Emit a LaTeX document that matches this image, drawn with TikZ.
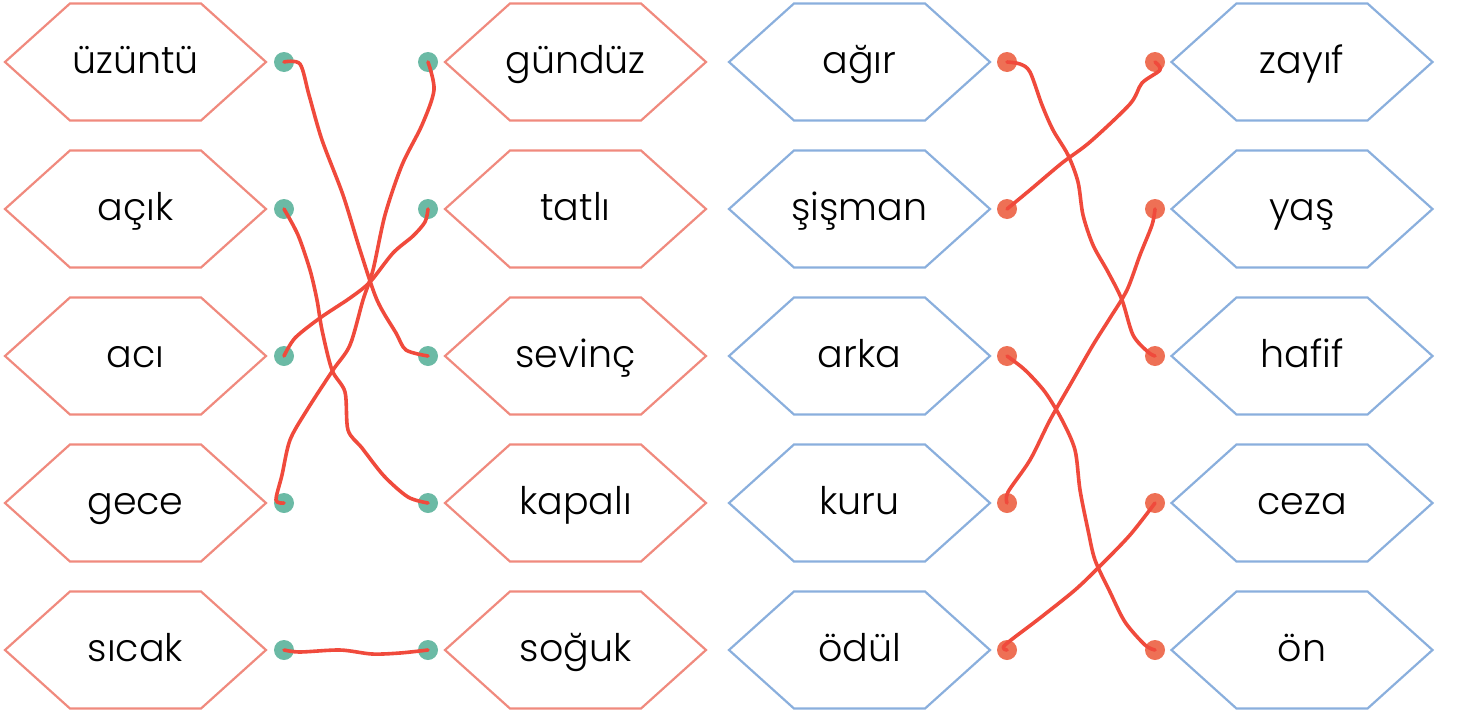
\documentclass[tikz,border=0pt]{standalone}
\usepackage{fontspec}
\setmainfont{Poppins}[UprightFont=* Light]
\usetikzlibrary{shapes.symbols}

\definecolor{hexred}{HTML}{F08A7E}
\definecolor{hexblue}{HTML}{8AAFDD}
\definecolor{dotgreen}{HTML}{6BBAA5}
\definecolor{dotred}{HTML}{EE7055}
\definecolor{penred}{HTML}{F04A3C}

\tikzset{
	wordbox/.style={signal, signal to=west and east, signal pointer angle=84, minimum width=261pt, minimum height=117pt, line width=2.2pt, inner sep=0pt, text height=30pt, text depth=8pt, font=\fontsize{38}{40}\selectfont},
	dotmark/.style={circle, inner sep=0pt, minimum size=20pt},
	penline/.style={draw=penred, line width=3.6pt, line cap=round, line join=round}
}

\begin{document}
\begin{tikzpicture}[x=1pt,y=-1pt]
	\useasboundingbox (0,0) rectangle (1459,715);

	\def\rowgap{147}		% vertical distance between the rows
	\def\top{62}			% height of the first row
	\def\tension{0.5}		% how much the pen lines are smoothed

	\foreach \w [count=\i] in {üzüntü,açık,acı,gece,sıcak}{% first column
		\node[wordbox, draw=hexred] (a\i) at (135.5,{\top+\rowgap*(\i-1)}) {\makebox[0pt]{\w}};
		\node[dotmark, fill=dotgreen] (p\i) at (284,{\top+\rowgap*(\i-1)}) {};
	}
	\foreach \w [count=\i] in {gündüz,tatlı,sevinç,kapalı,soğuk}{% second column
		\node[wordbox, draw=hexred] (b\i) at (575.5,{\top+\rowgap*(\i-1)}) {\makebox[0pt]{\w}};
		\node[dotmark, fill=dotgreen] (q\i) at (428,{\top+\rowgap*(\i-1)}) {};
	}
	\foreach \w [count=\i] in {ağır,şişman,arka,kuru,ödül}{% third column
		\node[wordbox, draw=hexblue] (c\i) at (859.5,{\top+\rowgap*(\i-1)}) {\makebox[0pt]{\w}};
		\node[dotmark, fill=dotred] (r\i) at (1007,{\top+\rowgap*(\i-1)}) {};
	}
	\foreach \w [count=\i] in {zayıf,yaş,hafif,ceza,ön}{% fourth column
		\node[wordbox, draw=hexblue] (d\i) at (1302,{\top+\rowgap*(\i-1)}) {\makebox[0pt]{\w}};
		\node[dotmark, fill=dotred] (s\i) at (1155,{\top+\rowgap*(\i-1)}) {};
	}

	% the matching lines, drawn by hand
	\draw[penline] plot[smooth, tension=\tension] coordinates {(p1.center) (300,64) (309,95) (322,140) (343,195) (360,250) (377,300) (396,333) (406,350) (q3.center)};
	\draw[penline] plot[smooth, tension=\tension] coordinates {(q1.center) (434,90) (422,125) (402,165) (385,215) (373,270) (363,300) (350,345) (333,370) (307,410) (290,440) (282,475) (276,500) (p4.center)};
	\draw[penline] plot[smooth, tension=\tension] coordinates {(p2.center) (298,235) (310,270) (317,300) (322,330) (332,370) (345,392) (348,430) (362,448) (384,476) (408,497) (q4.center)};
	\draw[penline] plot[smooth, tension=\tension] coordinates {(p3.center) (295,338) (320,318) (350,298) (370,282) (393,253) (413,236) (425,222) (q2.center)};
	\draw[penline] plot[smooth, tension=\tension] coordinates {(p5.center) (300,652) (340,650) (372,654) (400,653) (q5.center)};

	\draw[penline] plot[smooth, tension=\tension] coordinates {(r1.center) (1020,64) (1030,72) (1042,105) (1053,130) (1068,155) (1078,182) (1083,215) (1093,245) (1108,272) (1122,300) (1133,335) (1148,352) (s3.center)};
	\draw[penline] plot[smooth, tension=\tension] coordinates {(r2.center) (1030,190) (1062,163) (1090,142) (1130,104) (1142,83) (1160,70) (s1.center)};
	\draw[penline] plot[smooth, tension=\tension] coordinates {(r3.center) (1025,370) (1045,392) (1062,420) (1075,450) (1080,490) (1088,530) (1095,560) (1110,592) (1125,622) (1145,645) (s5.center)};
	\draw[penline] plot[smooth, tension=\tension] coordinates {(r4.center) (1008,492) (1030,460) (1050,420) (1070,385) (1093,345) (1110,318) (1127,290) (1140,255) (1152,225) (s2.center)};
	\draw[penline] plot[smooth, tension=\tension] coordinates {(r5.center) (1005,645) (1040,618) (1075,590) (1100,566) (1130,535) (s4.center)};

\end{tikzpicture}
\end{document}
